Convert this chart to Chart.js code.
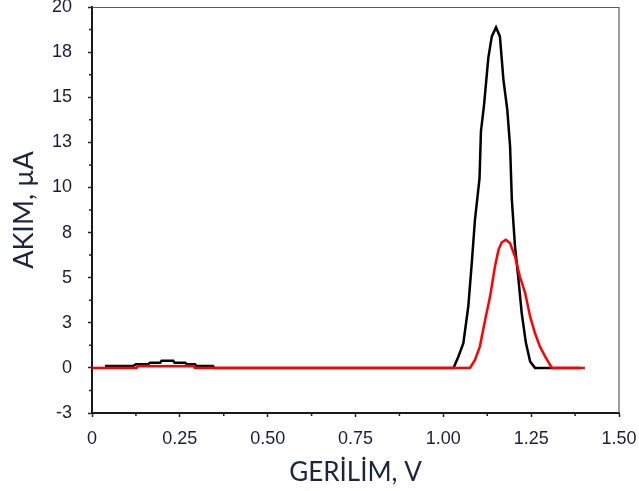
<!DOCTYPE html>
<html>
<head>
<meta charset="utf-8">
<script src="https://cdn.jsdelivr.net/npm/chart.js@4"></script>
<style>
  body { margin: 0; background: #fff; }
  canvas { display: block; }
</style>
</head>
<body>
<canvas id="voltChart" width="639" height="491"></canvas>
<script>
// Gerilim (V) ve akim (uA) degerleri
const blackV = [0.037, 0.118, 0.125, 0.160, 0.165, 0.194, 0.198, 0.231, 0.235, 0.265, 0.270, 0.293, 0.297, 0.344, 0.348,
  1.029, 1.043, 1.057, 1.071, 1.081, 1.090, 1.103, 1.107, 1.116, 1.128, 1.138, 1.150, 1.161, 1.171, 1.182,
  1.190, 1.195, 1.204, 1.214, 1.223, 1.235, 1.247, 1.261, 1.390];
const blackI = [0.11, 0.11, 0.20, 0.20, 0.29, 0.29, 0.39, 0.39, 0.29, 0.29, 0.20, 0.20, 0.11, 0.11, 0,
  0, 0.63, 1.37, 3.40, 5.82, 8.21, 10.5, 13.09, 14.59, 17.18, 18.37, 18.87, 18.37, 15.98, 14.31,
  12.27, 9.32, 6.73, 4.88, 3.05, 1.39, 0.35, 0, 0];

const redV = [0, 0.127, 0.130, 0.290, 0.293, 1.076, 1.090, 1.104, 1.119, 1.133, 1.147, 1.157, 1.166, 1.178,
  1.190, 1.204, 1.218, 1.233, 1.247, 1.261, 1.275, 1.290, 1.309, 1.403];
const redI = [0, 0, 0.09, 0.09, 0, 0, 0.44, 1.18, 2.66, 3.95, 5.62, 6.54, 6.95, 7.10,
  6.91, 6.17, 5.06, 4.14, 2.85, 1.92, 1.18, 0.63, 0, 0];

const xMin = 0, xMax = 1.5, xStep = 0.25;
const yMin = -2.5, yMax = 20, yStep = 2.5;

const toPoints = (xs, ys) => xs.map((x, i) => ({ x: x, y: ys[i] }));

const labelColor = "#1c1c3c";
const titleColor = "#1b2540";

// ara (minor) tikler ve cerceve
const framePlugin = {
  id: "frame",
  afterDraw(chart) {
    const { ctx, chartArea, scales } = chart;
    ctx.save();
    ctx.strokeStyle = "#5a5a5a";
    ctx.lineWidth = 1.2;
    ctx.beginPath();
    ctx.moveTo(chartArea.left, chartArea.top + 0.5);
    ctx.lineTo(chartArea.right, chartArea.top + 0.5);
    ctx.lineTo(chartArea.right, chartArea.bottom);
    ctx.stroke();

    ctx.strokeStyle = "#222";
    ctx.lineWidth = 1.5;
    ctx.beginPath();
    for (let v = yMin + yStep / 2; v < yMax; v += yStep) {
      const py = scales.y.getPixelForValue(v);
      ctx.moveTo(chartArea.left, py);
      ctx.lineTo(chartArea.left - 3, py);
    }
    for (let v = xMin + xStep / 2; v < xMax; v += xStep) {
      const px = scales.x.getPixelForValue(v);
      ctx.moveTo(px, chartArea.bottom);
      ctx.lineTo(px, chartArea.bottom + 3);
    }
    ctx.stroke();
    ctx.restore();
  }
};

new Chart(document.getElementById("voltChart").getContext("2d"), {
  type: "scatter",
  data: {
    datasets: [
      {
        label: "kirmizi",
        data: toPoints(redV, redI),
        showLine: true,
        borderColor: "#ff0000",
        borderWidth: 2.5,
        pointRadius: 0,
        tension: 0
      },
      {
        label: "siyah",
        data: toPoints(blackV, blackI),
        showLine: true,
        borderColor: "#000000",
        borderWidth: 2.5,
        pointRadius: 0,
        tension: 0
      }
    ]
  },
  options: {
    responsive: false,
    animation: false,
    layout: { padding: { left: 0, top: 7, right: 20, bottom: 0 } },
    plugins: {
      legend: { display: false },
      tooltip: { enabled: false }
    },
    scales: {
      x: {
        type: "linear",
        min: xMin,
        max: xMax,
        afterFit(scale) {
          scale.height = 78;
          scale.paddingLeft = 0;
          scale.paddingRight = 0;
        },
        border: { color: "#1a1a1a", width: 2 },
        grid: { drawOnChartArea: false, tickLength: 4, tickColor: "#222", tickWidth: 1.5 },
        ticks: {
          stepSize: xStep,
          padding: 11,
          maxRotation: 0,
          color: labelColor,
          font: { family: "'Liberation Sans', Arial, sans-serif", size: 18 },
          callback: (v) => v === 0 ? "0" : v.toFixed(2)
        },
        title: {
          display: true,
          text: "GERİLİM, V",
          color: titleColor,
          padding: { top: 0, bottom: 3 },
          font: { family: "Lato, 'Open Sans', sans-serif", size: 26 }
        }
      },
      y: {
        type: "linear",
        min: yMin,
        max: yMax,
        afterFit(scale) {
          scale.width = 92;
          scale.paddingTop = 0;
          scale.paddingBottom = 0;
        },
        border: { color: "#1a1a1a", width: 2 },
        grid: { drawOnChartArea: false, tickLength: 4, tickColor: "#222", tickWidth: 1.5 },
        ticks: {
          stepSize: yStep,
          padding: 16,
          color: labelColor,
          font: { family: "'Liberation Sans', Arial, sans-serif", size: 18 },
          callback: (v) => v.toFixed(0)
        },
        title: {
          display: true,
          text: "AKIM, µA",
          color: titleColor,
          padding: { top: 8, bottom: 0 },
          font: { family: "Lato, 'Open Sans', sans-serif", size: 27 }
        }
      }
    }
  },
  plugins: [framePlugin]
});
</script>
</body>
</html>
